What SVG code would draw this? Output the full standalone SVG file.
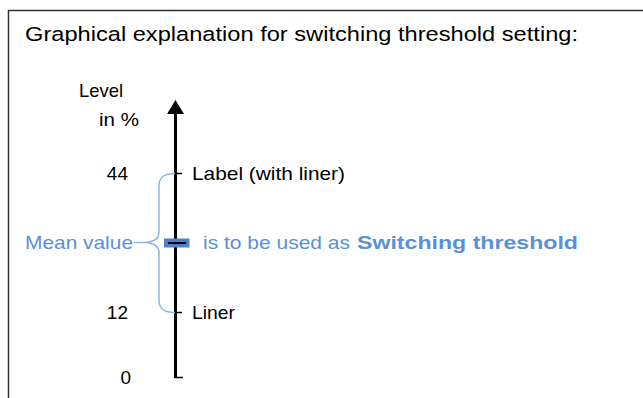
<svg xmlns="http://www.w3.org/2000/svg" width="643" height="398" viewBox="0 0 643 398">
<style>
text{font-family:"Liberation Sans",Arial,sans-serif;}
.t{font-size:19px;fill:#000;}
.b{font-size:19px;fill:#5b8fd8;}
.tick{stroke:#000;stroke-width:1.5;fill:none;}
.brace{fill:none;stroke:#8db3e6;stroke-width:1.5;}
</style>
<rect width="643" height="398" fill="#fff"/>
<path d="M8.5 398 V10.5 H643" fill="none" stroke="#333" stroke-width="1.5"/>
<text x="25" y="41" font-size="20.5" textLength="553" lengthAdjust="spacingAndGlyphs">Graphical explanation for switching threshold setting:</text>
<g id="axis-labels">
<text class="t" x="79" y="97" textLength="44" lengthAdjust="spacingAndGlyphs">Level</text>
<text class="t" x="99" y="126" textLength="40" lengthAdjust="spacingAndGlyphs">in %</text>
<text class="t" x="128" y="180" text-anchor="end">44</text>
<text class="t" x="128" y="319" text-anchor="end">12</text>
<text class="t" x="131" y="384" text-anchor="end">0</text>
</g>
<g id="connectors">
<line x1="175.5" y1="378" x2="175.5" y2="112" stroke="#000" stroke-width="3"/>
<polygon points="175.5,100 167,114 184,114" fill="#000"/>
<path class="tick" d="M175 377.5 H183"/>
<path class="tick" d="M175 173.5 H182"/>
<path class="tick" d="M175 312.5 H182"/>
<path class="brace" d="M175 173.5 C164 173.5 159 177 159 186 V232 C159 239 154 242 145 242.5 C154 243 159 246 159 253 V300 C159 309 164 312.5 175 312.5"/>
<line class="brace" x1="134" y1="242.5" x2="145" y2="242.5"/>
</g>
<g id="marker">
<rect x="164" y="238.5" width="25.5" height="9" fill="#4f81c8"/>
<line x1="168" y1="243" x2="186" y2="243" stroke="#000" stroke-width="2"/>
</g>
<g id="label44"><text class="t" x="192" y="180" textLength="153" lengthAdjust="spacingAndGlyphs">Label (with liner)</text></g>
<g id="label12"><text class="t" x="192" y="319" textLength="43" lengthAdjust="spacingAndGlyphs">Liner</text></g>
<g id="mean"><text class="b" x="25" y="249" textLength="108" lengthAdjust="spacingAndGlyphs">Mean value</text></g>
<g id="threshold">
<text class="b" x="203" y="249" textLength="147" lengthAdjust="spacingAndGlyphs">is to be used as</text>
<text class="b" x="357" y="249" font-weight="bold" textLength="221" lengthAdjust="spacingAndGlyphs">Switching threshold</text>
</g>
</svg>
